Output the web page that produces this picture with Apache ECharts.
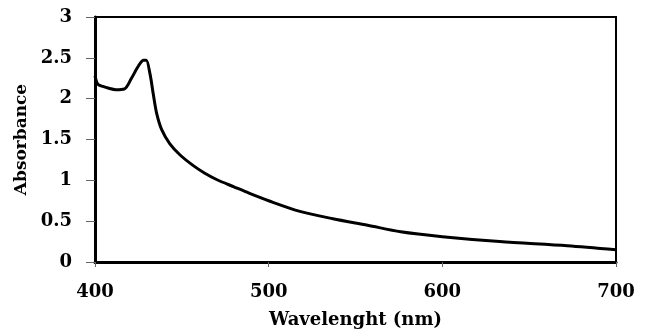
<!DOCTYPE html>
<html>
<head>
<meta charset="utf-8">
<script src="https://cdn.jsdelivr.net/npm/echarts@6/dist/echarts.min.js"></script>
<style>
  html, body { margin: 0; padding: 0; background: #fff; }
  #chart { width: 646px; height: 334px; }
</style>
</head>
<body>
<div id="chart"></div>
<script>
// absorbance spectrum, values
const wavelengths = [400, 401, 402, 404.5, 407.5, 412, 417, 421, 425, 428, 429.5, 431.7, 433.6, 435.5, 438.4, 443, 449, 456.6, 463, 470, 480, 489, 500, 518, 537, 557, 576, 600, 633, 672, 700]
const absorbance  = [2.28, 2.20, 2.17, 2.15, 2.13, 2.11, 2.12, 2.25, 2.40, 2.47, 2.47, 2.30, 2.05, 1.82, 1.62, 1.45, 1.31, 1.18, 1.09, 1.01, 0.92, 0.84, 0.75, 0.62, 0.53, 0.45, 0.37, 0.31, 0.25, 0.20, 0.15]

const xTicks = { min: 400, max: 700, interval: 100 }
const yTicks = { min: 0, max: 3, interval: 0.5 }

const FONT = 'DejaVu Serif'
const INK = '#000'

const chart = echarts.init(document.getElementById('chart'), null, { renderer: 'canvas' })

chart.setOption({
  animation: false,
  backgroundColor: '#fff',
  grid: {
    left: 95, right: 30, top: 17, bottom: 70,
    show: true, borderColor: INK, borderWidth: 2, backgroundColor: 'transparent'
  },
  xAxis: {
    type: 'value',
    min: xTicks.min, max: xTicks.max, interval: xTicks.interval,
    name: 'Wavelenght (nm)',
    nameLocation: 'middle', nameGap: 49,
    nameTextStyle: { fontFamily: FONT, fontWeight: 'bold', fontSize: 18, color: INK },
    axisLine: { show: true, onZero: false, lineStyle: { color: INK, width: 3 } },
    axisTick: { show: true, length: 5, lineStyle: { color: '#666', width: 1 } },
    axisLabel: { margin: 21, fontFamily: FONT, fontWeight: 'bold', fontSize: 18, color: INK },
    splitLine: { show: false }
  },
  yAxis: {
    type: 'value',
    min: yTicks.min, max: yTicks.max, interval: yTicks.interval,
    name: 'Absorbance',
    nameLocation: 'middle', nameGap: 60,
    nameTextStyle: { fontFamily: FONT, fontWeight: 'bold', fontSize: 17, color: INK },
    axisLine: { show: true, lineStyle: { color: INK, width: 3 } },
    axisTick: { show: true, length: 9, lineStyle: { color: '#666', width: 1 } },
    axisLabel: { margin: 23, fontFamily: FONT, fontWeight: 'bold', fontSize: 18, color: INK },
    splitLine: { show: false }
  },
  series: [{
    type: 'line',
    data: wavelengths.map((w, i) => [w, absorbance[i]]),
    smooth: 0.3,
    symbol: 'none',
    lineStyle: { color: INK, width: 3 }
  }]
})
</script>
</body>
</html>
